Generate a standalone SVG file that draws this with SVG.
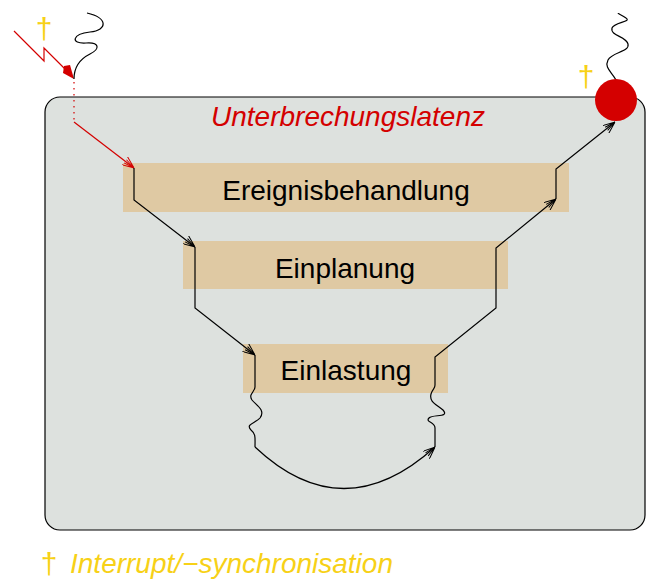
<svg xmlns="http://www.w3.org/2000/svg" width="650" height="581" viewBox="0 0 650 581">
<style>
.lbl{font-family:"Liberation Sans",Arial,sans-serif;font-size:28px;fill:#000;text-anchor:middle}
.node{fill:#dfc9a3}
.c{fill:none;stroke:#000;stroke-width:1.2}
.r{fill:none;stroke:#d40000;stroke-width:1.2}
.ylw{font-family:"Liberation Sans",Arial,sans-serif;fill:#f7d117}
</style>
<defs>
<marker id="ab" viewBox="0 0 12 10" refX="12" refY="5" markerWidth="12" markerHeight="10" markerUnits="userSpaceOnUse" orient="auto">
<path d="M0,0 L12,5 L0,10 M12,5 L1,3 M12,5 L1,7" fill="none" stroke="#000" stroke-width="1"/>
</marker>
<marker id="ar" viewBox="0 0 12 10" refX="12" refY="5" markerWidth="12" markerHeight="10" markerUnits="userSpaceOnUse" orient="auto">
<path d="M0,0 L12,5 L0,10 M12,5 L1,3 M12,5 L1,7" fill="none" stroke="#d40000" stroke-width="1"/>
</marker>
</defs>
<rect x="45" y="97" width="600" height="433" rx="15" ry="15" fill="#dde1de" stroke="#000" stroke-width="1.2"/>
<text x="348" y="126" font-family="Liberation Sans,Arial,sans-serif" font-size="28" font-style="italic" fill="#d40000" text-anchor="middle">Unterbrechungslatenz</text>
<g id="n1"><rect class="node" x="123" y="163" width="446" height="49"/><text class="lbl" x="346" y="200">Ereignisbehandlung</text></g>
<g id="n2"><rect class="node" x="183" y="241" width="325" height="48"/><text class="lbl" x="345" y="278">Einplanung</text></g>
<g id="n3"><rect class="node" x="243" y="344" width="205" height="49"/><text class="lbl" x="346" y="380">Einlastung</text></g>
<g id="connectors">
<path class="r" d="M14,31 L44,61 L44,48 L66,70"/>
<path d="M64,66 L70,65 L74,79 L63,73 Z" fill="#d40000"/>
<path d="M74,82 L74,122" stroke="#d40000" stroke-width="1.2" stroke-dasharray="1.5,4.5" fill="none"/>
<path class="r" d="M74,122 L134,168" marker-end="url(#ar)"/>
<path class="c" d="M74,79 C74,66 82,58 90,54 C100,49 100,42 86,43 C70,44 72,34 90,32 C108,30 108,18 87,13"/>
<path class="c" d="M134,168 L134,200 L195,247" marker-end="url(#ab)"/>
<path class="c" d="M195,247 L195,308 L255,355" marker-end="url(#ab)"/>
<path class="c" d="M255,355 L255,387 C255,392 248,394 252,400 C256,405 266,410 260,418 C256,423 245,424 251,430 C256,434 255,438 255,447"/>
<path class="c" d="M255,447 Q343,530 435,447" marker-end="url(#ab)"/>
<path class="c" d="M435,447 L435,428 C435,422 425,422 429,418 C433,414 450,418 443,410 C436,404 429,402 431,394 C433,388 435,389 435,385 L435,357 L496,308 L496,248 L556,199" marker-end="url(#ab)"/>
<path class="c" d="M556,199 L556,169 L615,122" marker-end="url(#ab)"/>
<path class="c" d="M616,80 C612,72 604,68 608,60 C612,52 630,52 628,44 C626,36 610,36 612,28 C614,22 632,22 626,18 C622,15 618,14 618,13"/>
</g>
<circle cx="616" cy="100" r="21" fill="#d40000"/>
<text class="ylw" x="44" y="39" font-size="30" text-anchor="middle">†</text>
<text class="ylw" x="586" y="87" font-size="30" text-anchor="middle">†</text>
<text class="ylw" x="49" y="574" font-size="30" text-anchor="middle">†</text>
<text class="ylw" x="70" y="573" font-size="28" font-style="italic">Interrupt/−synchronisation</text>
</svg>
